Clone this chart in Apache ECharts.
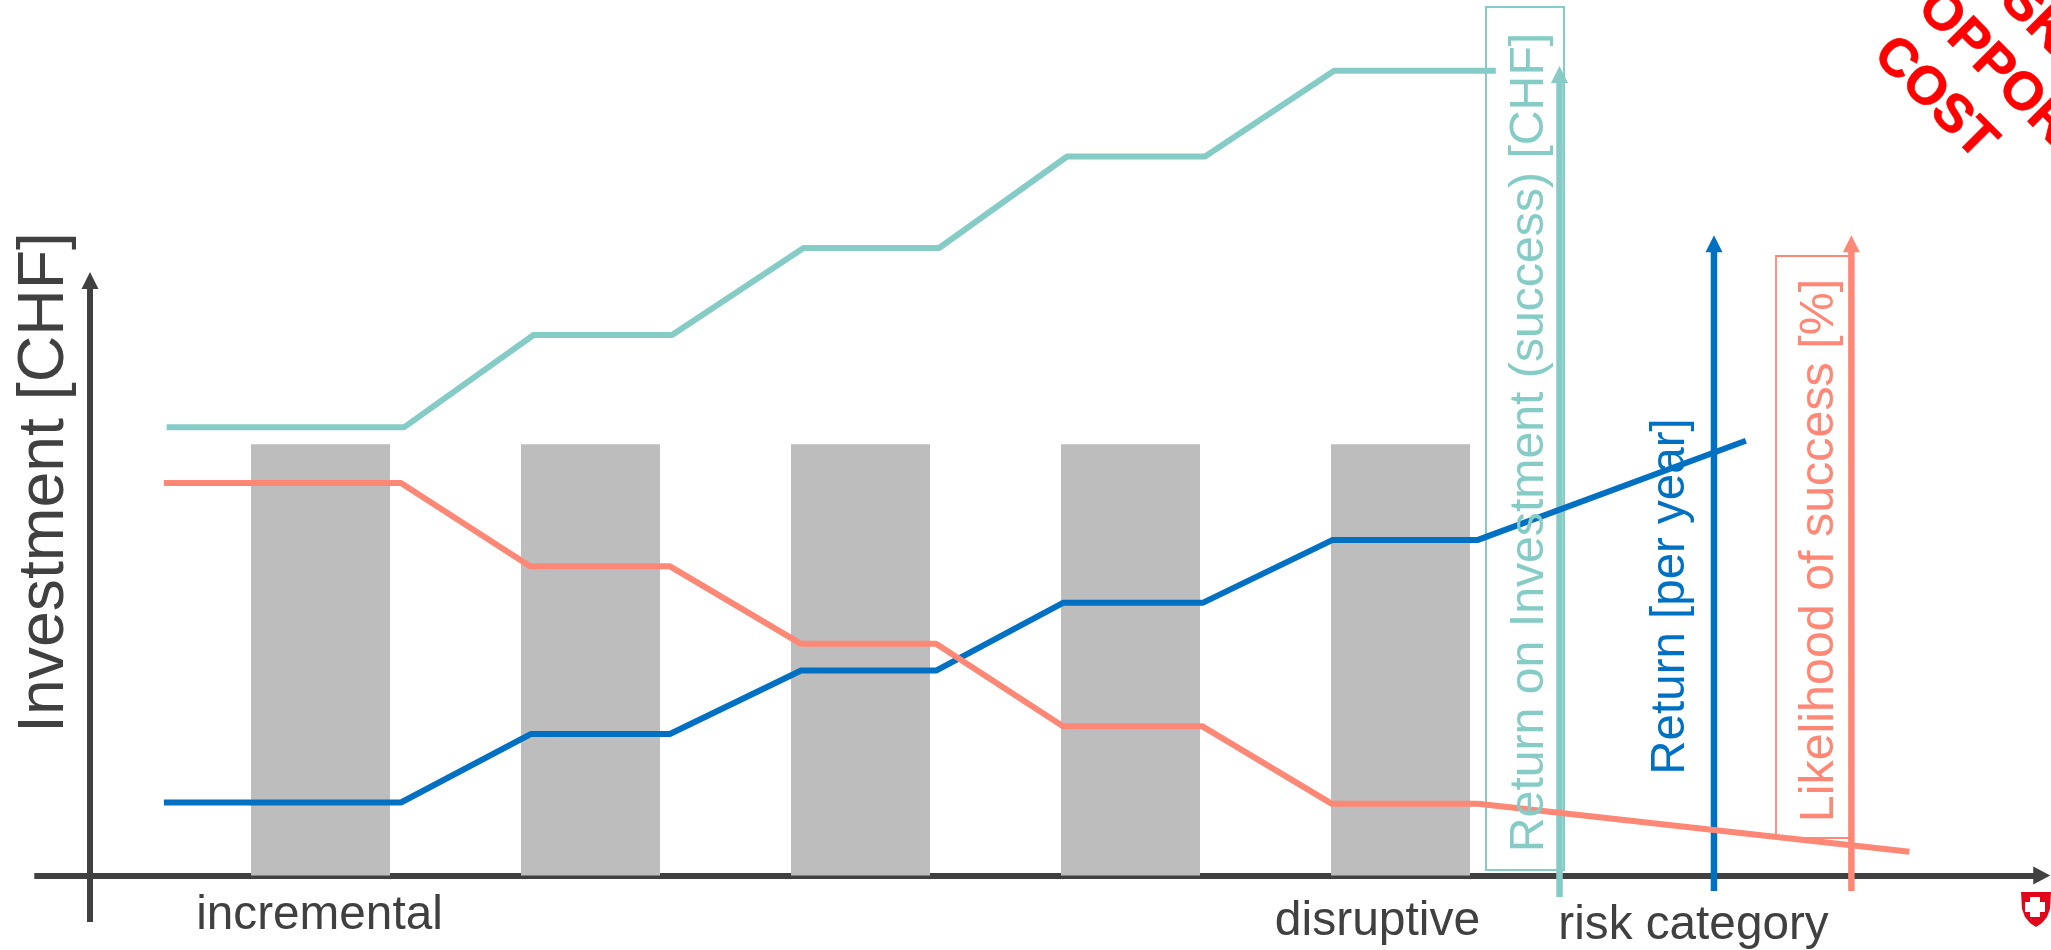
<!DOCTYPE html>
<html><head><meta charset="utf-8">
<style>html,body{margin:0;padding:0;background:#fff;overflow:hidden}#c{width:2051px;height:950px}</style>
<script src="https://cdn.jsdelivr.net/npm/echarts@6/dist/echarts.min.js"></script>
</head><body><div id="c"></div>
<script>
// Risk categories 1..5 sit on whole x units; bars are the investment (=100)
const barX = [1, 2, 3, 4, 5];
const barValues = [100, 100, 100, 100, 100];
const roiX = [0.430, 1.309, 1.789, 2.302, 2.789, 3.291, 3.765, 4.276, 4.754, 5.353];
const roiY = [103.9, 103.9, 125.3, 125.3, 145.5, 145.5, 166.7, 166.7, 186.6, 186.6];
const likelihoodX = [0.420, 1.298, 1.776, 2.293, 2.780, 3.280, 3.750, 4.265, 4.746, 5.287, 6.885];
const likelihoodY = [91.0, 91.0, 71.7, 71.7, 53.7, 53.7, 34.6, 34.6, 16.6, 16.6, 5.5];
const returnX = [0.420, 1.298, 1.780, 2.294, 2.780, 3.280, 3.750, 4.267, 4.749, 5.287, 6.279];
const returnY = [16.9, 16.9, 32.8, 32.8, 47.5, 47.5, 63.2, 63.2, 77.8, 77.8, 100.8];
// Secondary measure arrows: position on x, foot and head on y
const roiArrow = [5.589, -5.0, 185.7];
const returnArrow = [6.161, -3.6, 146.5];
const likelihoodArrow = [6.670, -3.6, 146.5];
const yTitle = 'Investment [CHF]';
const xLabels = ['incremental', 'disruptive', 'risk category'];
const roiTitle = 'Return on Investment (success) [CHF]';
const returnTitle = 'Return [per year]';
const likelihoodTitle = 'Likelihood of success [%]';
const stamp = ['COST', 'OPPORTUNITY', 'RISK'];

const DARK = '#404040', TEAL = '#85CCC6', SALMON = '#FF8775', BLUE = '#0070C3', GREY = '#BDBDBD';
const FONT = '"Liberation Sans", Arial, sans-serif';
const zip = (a, b) => a.map((v, i) => [v, b[i]]);
const lineSeries = (name, xs, ys, color) => ({
  type: 'line', name, xAxisIndex: 0, yAxisIndex: 0, data: zip(xs, ys), showSymbol: false, symbol: 'none',
  silent: true, z: 4, lineStyle: { color, width: 6, cap: 'butt', join: 'bevel' }
});
const arrowSeries = (name, a, color, z) => ({
  type: 'line', name, xAxisIndex: 0, yAxisIndex: 0, silent: true, z,
  showSymbol: true, showAllSymbol: true,
  itemStyle: { color }, lineStyle: { color, width: 6.5, cap: 'butt' },
  data: [
    { value: [a[0], a[1]], symbol: 'none' },
    { value: [a[0], a[2]], symbol: 'triangle', symbolSize: [17, 17] }
  ]
});
const txt = (text, x, y, size, color, opt = {}) => ({
  type: 'text', x, y, rotation: opt.rotation || 0, z: opt.z || 10, silent: true,
  style: { text, x: 0, y: 0, fill: color, align: opt.align || 'center', verticalAlign: opt.va || 'middle',
           fontFamily: FONT, fontSize: size, fontWeight: opt.weight || 'normal',
           stroke: opt.stroke || 'none', lineWidth: opt.strokeWidth || 0 }
});
const box = (x, y, width, height, stroke, lw) => ({
  type: 'rect', z: 3, silent: true, shape: { x, y, width, height },
  style: { fill: 'none', stroke, lineWidth: lw }
});
const R90 = Math.PI / 2, R45 = -Math.PI / 4;
const RED = { rotation: R45, align: 'left', weight: 'bold', stroke: '#FF0000', strokeWidth: 0.6 };

const chart = echarts.init(document.getElementById('c'), null, { renderer: 'canvas', width: 2051, height: 950 });
chart.setOption({
  animation: false,
  backgroundColor: '#fff',
  grid: [
    { left: 34.3, right: 9.25, top: 0, bottom: 0 },
    { left: 90, width: 1, top: 280.5, bottom: 28 }
  ],
  xAxis: [
    { type: 'value', gridIndex: 0, min: -0.06, max: 7.375, splitLine: { show: false }, axisTick: { show: false }, axisLabel: { show: false },
      axisLine: { show: true, onZero: true, symbol: ['none', 'triangle'], symbolSize: [18, 17], lineStyle: { color: DARK, width: 6, cap: 'butt' } } },
    { type: 'value', gridIndex: 1, show: false, min: 0, max: 1 }
  ],
  yAxis: [
    { type: 'value', gridIndex: 0, show: false, min: -17.3, max: 203, splitLine: { show: false } },
    { type: 'value', gridIndex: 1, min: 0, max: 100, position: 'left', splitLine: { show: false }, axisTick: { show: false }, axisLabel: { show: false },
      axisLine: { show: true, symbol: ['none', 'triangle'], symbolSize: [17, 17], lineStyle: { color: DARK, width: 6, cap: 'butt' } } }
  ],
  series: [
    { type: 'bar', name: 'Investment', xAxisIndex: 0, yAxisIndex: 0, data: zip(barX, barValues), barWidth: 139, silent: true, z: 1,
      itemStyle: { color: GREY } },
    arrowSeries('ROI axis', roiArrow, TEAL, 2),
    arrowSeries('Return axis', returnArrow, BLUE, 2),
    arrowSeries('Likelihood axis', likelihoodArrow, SALMON, 2),
    lineSeries('Return on Investment', roiX, roiY, TEAL),
    lineSeries('Return', returnX, returnY, BLUE),
    lineSeries('Likelihood of success', likelihoodX, likelihoodY, SALMON)
  ],
  graphic: { elements: [
    box(1486, 7, 78, 863, TEAL, 2),
    box(1776, 256, 74, 582, SALMON, 1.8),
    txt(yTitle, 45, 482.5, 64.4, DARK, { rotation: R90 }),
    txt(xLabels[0], 319.5, 916, 47.7, DARK),
    txt(xLabels[1], 1377.5, 922, 48, DARK),
    txt(xLabels[2], 1693.5, 926, 47.7, DARK),
    txt(roiTitle, 1529.5, 442.5, 48.2, TEAL, { rotation: R90 }),
    txt(returnTitle, 1671, 596.5, 47.5, BLUE, { rotation: R90 }),
    txt(likelihoodTitle, 1820, 550.5, 48.4, SALMON, { rotation: R90 }),
    txt(stamp[0], 1882, 46, 53.5, '#FF0000', RED),
    txt(stamp[1], 1926, -1, 53.5, '#FF0000', RED),
    txt(stamp[2], 1971, -46.5, 53.5, '#FF0000', RED),
    { type: 'polygon', z: 10, silent: true, shape: { points: [[2021,892],[2051,892],[2050,909],[2047,917],[2042,923],[2036,927],[2030,923],[2025,917],[2022,909]] }, style: { fill: '#E2061A' } },
    { type: 'rect', z: 11, silent: true, shape: { x: 2030, y: 897, width: 10, height: 20 }, style: { fill: '#fff' } },
    { type: 'rect', z: 11, silent: true, shape: { x: 2025, y: 902, width: 20, height: 10 }, style: { fill: '#fff' } }
  ] }
});
</script></body></html>
